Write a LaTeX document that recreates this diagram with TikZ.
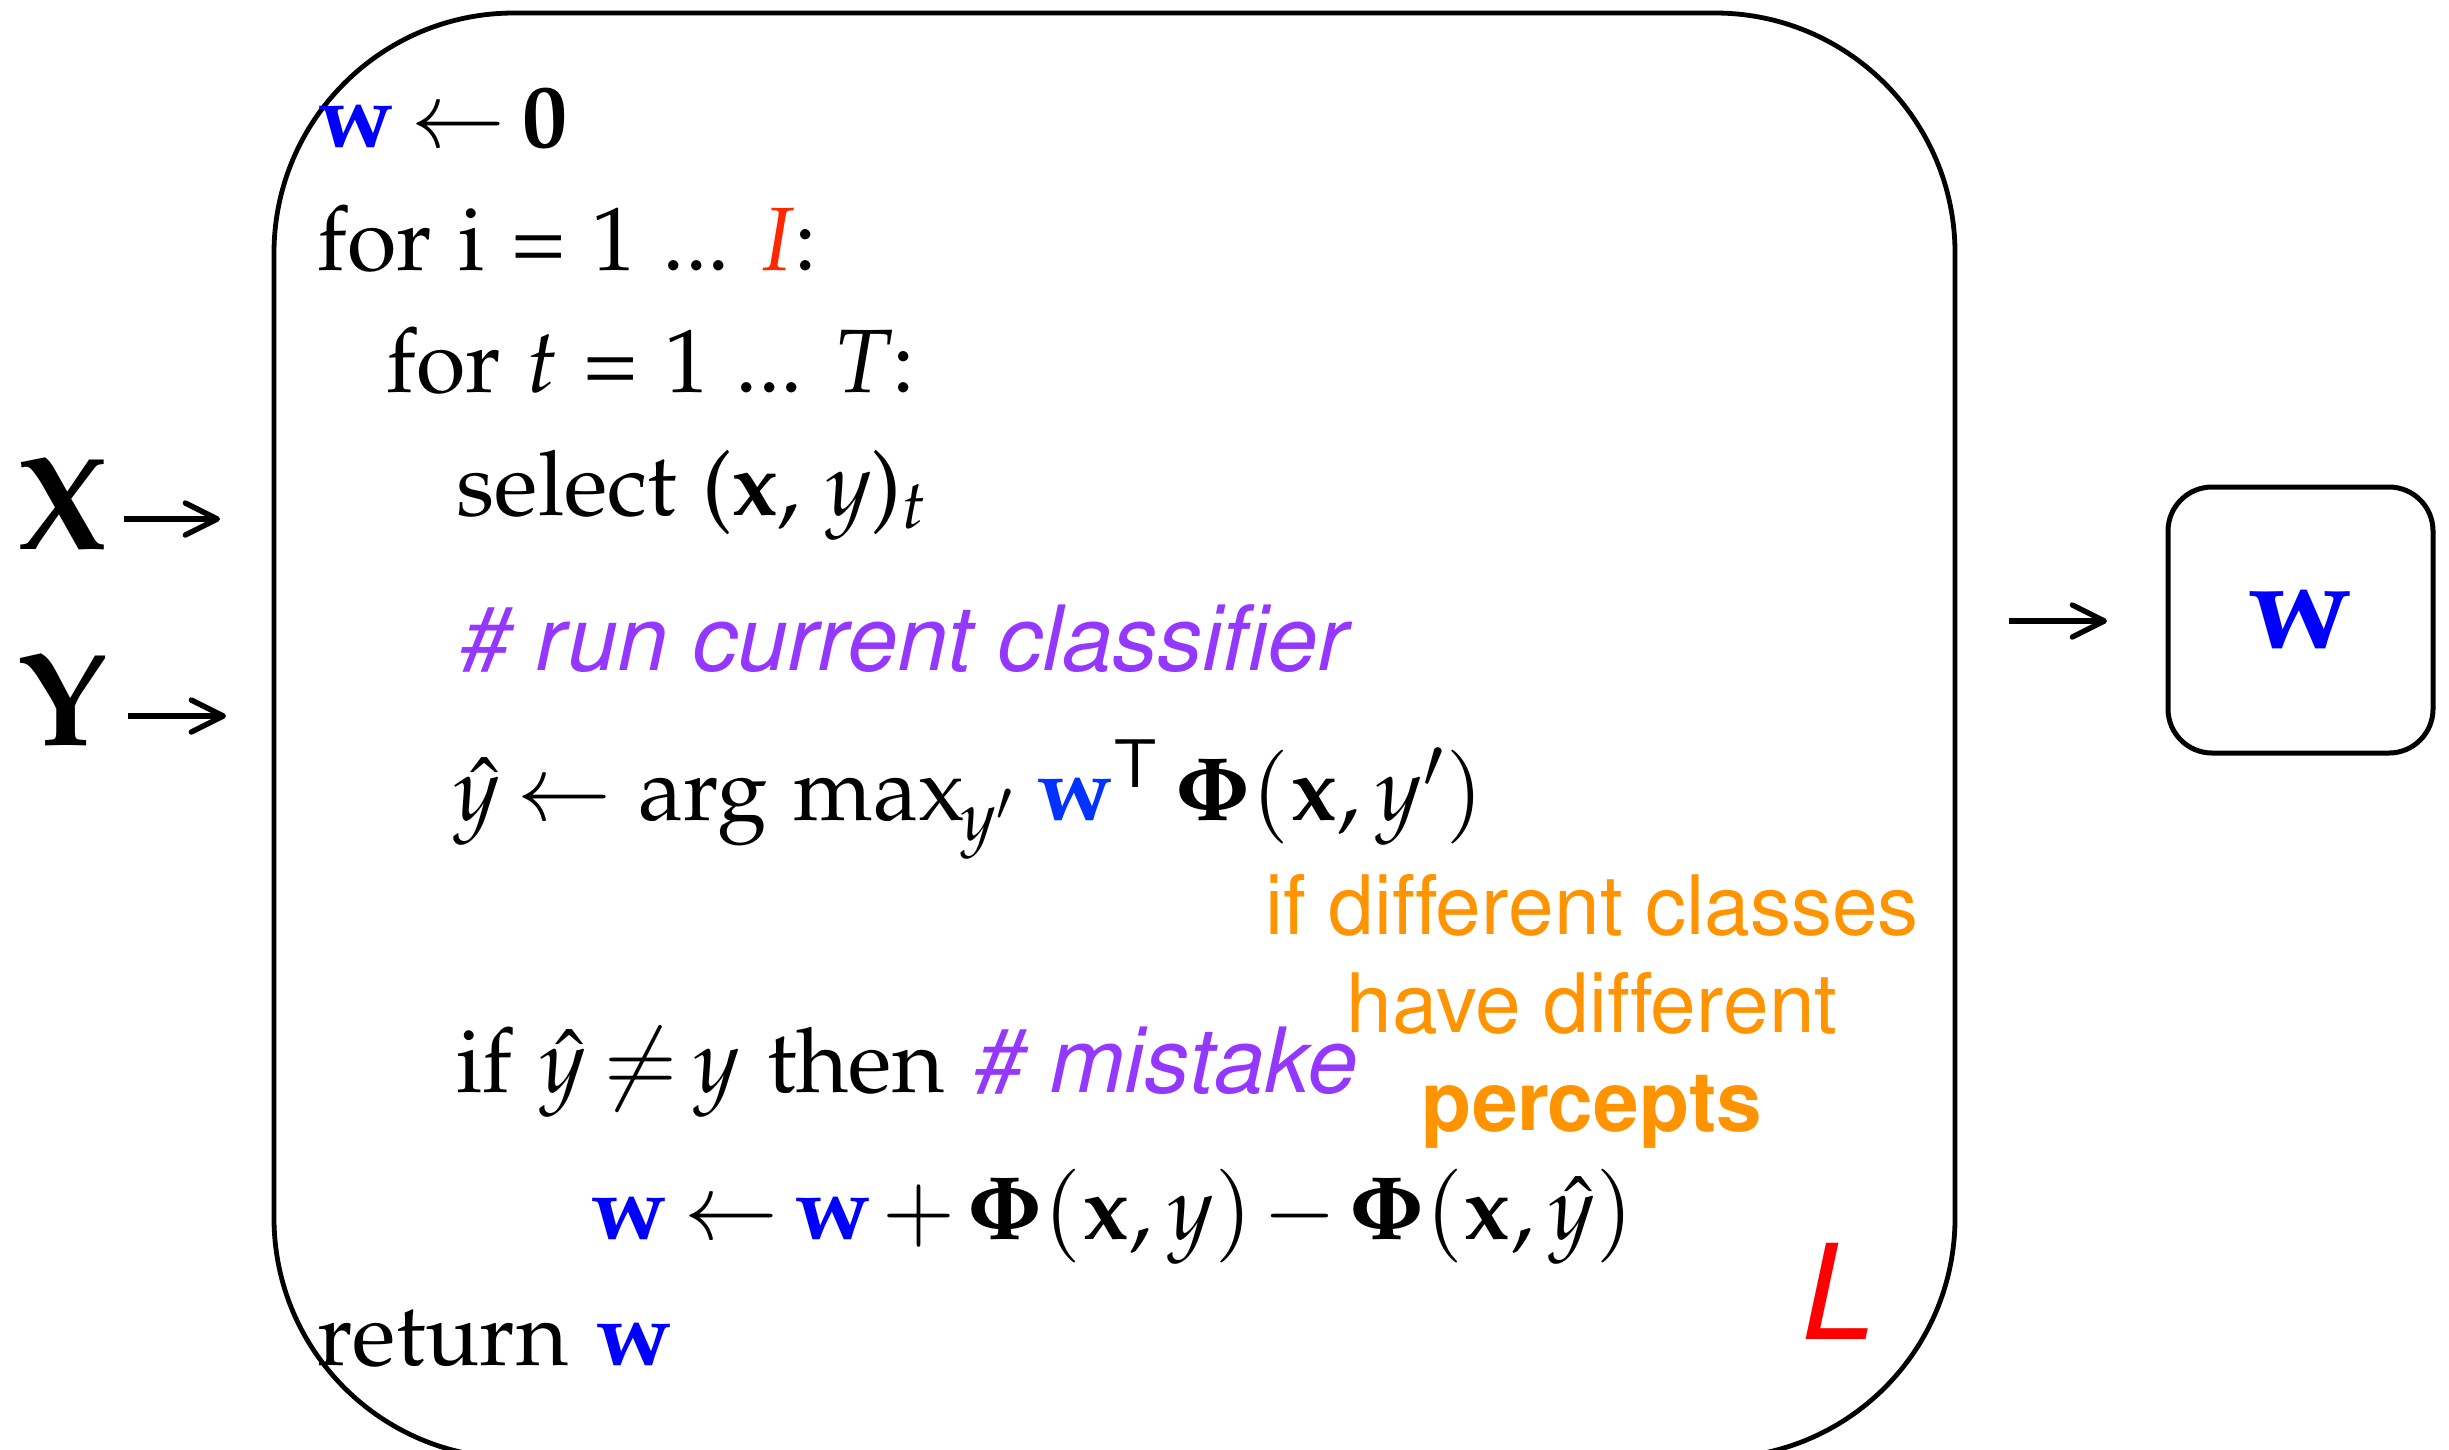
\documentclass[tikz,border=0pt]{standalone}
\usepackage[T1]{fontenc}
\usepackage[sc]{mathpazo}
\usepackage{helvet}
\usetikzlibrary{arrows.meta}
\definecolor{wblue}{RGB}{0,0,255}
\definecolor{wblueb}{RGB}{0,51,255}
\definecolor{redI}{RGB}{255,38,0}
\definecolor{redL}{RGB}{255,0,0}
\definecolor{purp}{RGB}{148,55,255}
\definecolor{orng}{RGB}{255,147,0}
\newcommand{\wb}{{\color{wblue}\mathbf{w}}}
\newcommand{\tightm}{\thickmuskip=3mu\relax\medmuskip=2mu\relax}
\begin{document}
\begin{tikzpicture}[x=0.25pt,y=-0.25pt,
  code/.style={anchor=base west, inner sep=0pt, font=\fontsize{22.5}{27}\selectfont},
  comment/.style={anchor=base west, inner sep=0pt, text=purp, font=\sffamily\itshape\fontsize{22.5}{27}\selectfont},
  note/.style={anchor=base, inner sep=0pt, text=orng, font=\sffamily\fontsize{20.5}{24}\selectfont},
  bigbox/.style={draw, line width=1.2pt, rounded corners=60pt, inner sep=0pt},
  outbox/.style={draw, line width=1.25pt, rounded corners=11pt, inner sep=0pt},
  bigletter/.style={anchor=base west, inner sep=0pt, font=\fontsize{33}{38}\selectfont},
  arr/.style={line width=1.35pt, -{Straight Barb[length=8pt,width=8pt,round]}}
]
\useasboundingbox (0,0) rectangle (2449,1449);
\node[bigbox, minimum width=420.25pt, minimum height=361.25pt] (learner) at (1114.5,735.5) {};
\node[outbox, minimum width=66.25pt, minimum height=66.5pt, font=\fontsize{31}{35}\selectfont] (wout) at (2300.5,620) {$\wb$};

\node[bigletter] (X) at (16,549) {$\mathbf{X}$};
\node[bigletter] (Y) at (16,745) {$\mathbf{Y}$};
\coordinate (xa1) at (124,519); \coordinate (xa2) at (220,519);
\coordinate (ya1) at (128,716); \coordinate (ya2) at (226,716);
\coordinate (oa1) at (2009,621); \coordinate (oa2) at (2107,621);
\draw[arr] (xa1) -- (xa2);
\draw[arr] (ya1) -- (ya2);
\draw[arr] (oa1) -- (oa2);

\node[code] (l1) at (317,147) {\tightm$\wb \leftarrow \mathbf{0}$};
\node[code] (l2) at (317,270) {for i = 1 ... {\color{redI}\textit{I}}:};
\node[code] (l3) at (386,392) {for \textit{t} = 1 ... \textit{T}:};
\node[code] (l4) at (456,515) {select (\textbf{x}, \textit{y})$_{t}$};
\node[comment] (l5) at (456,670) {\# run current classifier};
\node[code] (l6) at (453,820) {\tightm$\hat{y} \leftarrow$ arg max$_{\kern-0.05em y'}$\kern-0.08em\ ${\color{wblueb}\mathbf{w}}^{\mathsf{T}}\, \mathbf{\Phi}(\mathbf{x}, y')$};
\node[code] (l7) at (456,1092) {\tightm if $\hat{y} \neq y$ then {\sffamily\itshape\color{purp}\# mistake}};
\node[code] (l8) at (590,1239) {\tightm$\wb \leftarrow \wb + \mathbf{\Phi}(\mathbf{x}, y) - \mathbf{\Phi}(\mathbf{x}, \hat{y})$};
\node[code] (l9) at (317,1365) {return $\wb$};

\node[note] (n1) at (1592,934) {if different classes};
\node[note] (n2) at (1592,1032) {have different};
\node[note, font=\sffamily\bfseries\fontsize{20.5}{24}\selectfont] (n3) at (1592,1130) {percepts};
\node[anchor=base west, inner sep=0pt, text=redL, font=\sffamily\itshape\fontsize{33}{38}\selectfont] (Lname) at (1795,1339) {L};
\end{tikzpicture}
\end{document}
